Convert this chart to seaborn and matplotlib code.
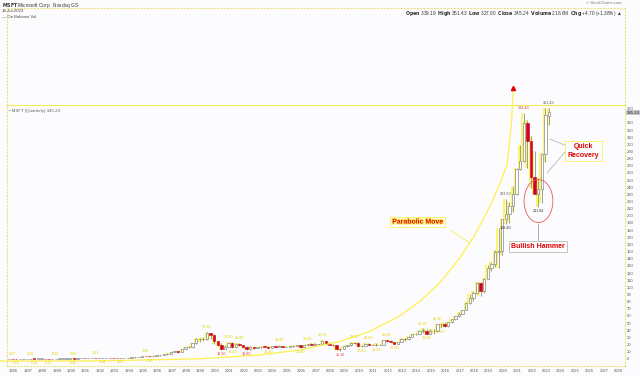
import numpy as np
import matplotlib
matplotlib.use("Agg")
import matplotlib.pyplot as plt
import matplotlib.patheffects as pe
from matplotlib.patches import Ellipse
import matplotlib.transforms as mtransforms
import seaborn as sns

# --- quarterly OHLC, MSFT (dividend adjusted), 1986 Q1 .. 2023 Q3 ---
opens = [
    0.055, 0.060, 0.058, 0.055,  0.078, 0.15, 0.17, 0.25,  0.20, 0.21, 0.22, 0.18,
    0.17, 0.18, 0.21, 0.26,  0.31, 0.41, 0.54, 0.48,  0.63, 0.90, 0.87, 1.05,
    1.38, 1.32, 1.17, 1.32,  1.62, 1.40, 1.38, 1.10,  1.25, 1.40, 1.62, 1.95,
    2.30, 2.95, 3.60, 3.50,  3.40, 4.00, 4.70, 5.10,  6.40, 7.10, 9.80, 10.3,
    10.0, 13.9, 16.8, 17.1,  21.5, 27.8, 28.0, 28.1,  36.2, 32.9, 24.8, 18.7,
    13.4, 17.0, 22.6, 15.9,  20.5, 18.7, 17.0, 13.6,  16.0, 15.0, 15.9, 17.2,
    17.0, 15.5, 17.7, 17.1,  18.2, 16.4, 16.9, 17.5,  17.8, 18.8, 16.1, 18.9,
    20.6, 19.5, 20.6, 20.6,  24.9, 20.4, 19.8, 19.2,  14.0, 13.4, 17.4, 18.8,
    22.3, 22.0, 17.3, 18.4,  20.9, 19.6, 20.0, 19.2,  20.0, 25.8, 24.5, 23.8,
    21.4, 23.5, 28.3, 27.3,  30.7, 34.8, 35.4, 39.4,  39.5, 35.4, 38.4, 38.5,
    48.3, 49.2, 45.5, 51.3,  55.3, 59.9, 62.7, 67.8,  77.8, 84.9, 91.7, 106.4,
    94.5, 112.0, 127.3, 132.1,  149.8, 151.4, 195.4, 201.9,  213.5, 231.1, 265.5, 276.3,
    329.6, 305.2, 254.3, 230.6,  237.4, 286.9, 339.19]
highs = [
    0.065, 0.068, 0.060, 0.080,  0.17, 0.19, 0.26, 0.27,  0.22, 0.23, 0.22, 0.19,
    0.19, 0.22, 0.27, 0.34,  0.42, 0.57, 0.60, 0.66,  0.93, 0.99, 1.08, 1.44,
    1.53, 1.38, 1.35, 1.65,  1.70, 1.50, 1.42, 1.30,  1.45, 1.70, 2.05, 2.35,
    3.00, 3.70, 3.90, 3.70,  4.10, 4.90, 5.30, 6.90,  7.50, 9.90, 11.0, 10.8,
    14.0, 16.8, 18.5, 22.0,  29.0, 29.4, 30.3, 37.2,  36.8, 34.7, 25.6, 22.4,
    19.7, 23.2, 23.1, 21.9,  21.8, 19.5, 17.5, 18.0,  16.4, 16.7, 18.1, 18.0,
    17.9, 18.0, 18.1, 19.0,  18.4, 17.6, 18.3, 19.0,  19.6, 19.5, 19.0, 21.0,
    21.6, 21.6, 21.0, 26.3,  25.2, 23.4, 20.3, 19.6,  15.0, 17.9, 19.2, 23.2,
    23.7, 23.7, 19.8, 21.6,  22.0, 20.6, 21.6, 21.1,  26.0, 26.4, 25.8, 24.2,
    23.8, 29.2, 29.5, 31.9,  35.0, 36.2, 39.9, 42.5,  41.6, 42.4, 41.1, 49.1,
    49.5, 50.9, 51.8, 56.2,  60.4, 65.5, 68.7, 79.6,  90.6, 95.3, 107.6, 107.5,
    112.9, 131.3, 135.8, 151.8,  183.1, 196.2, 223.5, 219.0,  241.2, 266.2, 299.7, 344.4,
    334.6, 312.0, 291.2, 252.8,  287.8, 350.8, 351.43]
lows = [
    0.053, 0.055, 0.050, 0.053,  0.077, 0.14, 0.17, 0.14,  0.18, 0.19, 0.17, 0.15,
    0.16, 0.18, 0.21, 0.26,  0.30, 0.39, 0.45, 0.47,  0.61, 0.81, 0.84, 1.02,
    1.23, 1.11, 1.14, 1.29,  1.33, 1.30, 1.05, 1.05,  1.22, 1.35, 1.58, 1.85,
    2.25, 2.90, 3.40, 3.10,  3.20, 3.90, 4.40, 5.00,  6.00, 6.90, 9.20, 8.80,
    9.80, 13.3, 14.5, 14.8,  20.5, 23.4, 25.4, 26.4,  27.8, 20.4, 18.5, 12.5,
    13.1, 16.1, 15.1, 15.1,  18.1, 15.1, 12.8, 12.9,  14.3, 14.8, 15.6, 16.0,
    15.2, 15.5, 16.6, 16.5,  16.3, 16.2, 16.7, 16.9,  17.6, 14.8, 15.8, 18.6,
    19.0, 19.3, 19.0, 20.2,  19.3, 19.5, 17.3, 12.5,  11.1, 13.3, 16.4, 18.5,
    20.9, 17.1, 17.0, 18.1,  19.3, 18.9, 18.2, 18.8,  20.0, 23.2, 23.4, 21.0,
    21.3, 23.2, 25.6, 26.9,  30.4, 33.3, 35.1, 36.1,  34.5, 35.3, 34.6, 38.2,
    42.8, 43.9, 44.6, 50.2,  55.0, 59.1, 62.1, 67.7,  76.2, 81.5, 90.5, 87.4,
    92.2, 111.1, 123.2, 129.1,  127.2, 144.8, 188.4, 190.5,  204.9, 229.0, 264.2, 275.0,
    267.3, 239.1, 230.4, 211.94,  218.3, 275.4, 327.00]
closes = [
    0.060, 0.058, 0.055, 0.078,  0.15, 0.17, 0.25, 0.20,  0.21, 0.22, 0.18, 0.17,
    0.18, 0.21, 0.26, 0.31,  0.41, 0.54, 0.48, 0.63,  0.90, 0.87, 1.05, 1.38,
    1.32, 1.17, 1.32, 1.62,  1.40, 1.38, 1.10, 1.25,  1.40, 1.62, 1.95, 2.30,
    2.95, 3.60, 3.50, 3.40,  4.00, 4.70, 5.10, 6.40,  7.10, 9.80, 10.3, 10.0,
    13.9, 16.8, 17.1, 21.5,  27.8, 28.0, 28.1, 36.2,  32.9, 24.8, 18.7, 13.4,
    17.0, 22.6, 15.9, 20.5,  18.7, 17.0, 13.6, 16.0,  15.0, 15.9, 17.2, 17.0,
    15.5, 17.7, 17.1, 18.2,  16.4, 16.9, 17.5, 17.8,  18.8, 16.1, 18.9, 20.6,
    19.5, 20.6, 20.6, 24.9,  20.4, 19.8, 19.2, 14.0,  13.4, 17.4, 18.8, 22.3,
    22.0, 17.3, 18.4, 20.9,  19.6, 20.0, 19.2, 20.0,  25.8, 24.5, 23.8, 21.4,
    23.5, 28.3, 27.3, 30.7,  34.8, 35.4, 39.4, 39.5,  35.4, 38.4, 38.5, 48.3,
    49.2, 45.5, 51.3, 55.3,  59.9, 62.7, 67.8, 77.8,  84.9, 91.7, 106.4, 94.5,
    112.0, 127.3, 132.1, 149.8,  151.4, 195.4, 201.9, 213.5,  231.1, 265.5, 276.3, 329.6,
    305.2, 254.3, 230.6, 237.4,  286.9, 340.5, 345.24]

first_year = 1986
year_ticks = list(range(1986, 2029))
# 340 sits under the last-price flag
price_ticks = [p for p in range(0, 351, 10) if p != 340]

# swing points that carry a value label
pivot_high_idx = [1, 6, 13, 18, 24, 38, 55, 61, 64, 75, 83, 87, 96, 100, 105, 115, 119, 138, 143, 150]
pivot_low_idx = [2, 7, 11, 18, 26, 31, 39, 59, 62, 66, 72, 81, 92, 98, 102, 107, 116, 120, 138, 147]

# hand drawn "parabolic" curve (year, price)
curve_x = [1985.38, 1992.32, 1999.26, 2003.43, 2006.21, 2008.99, 2011.07, 2013.15, 2014.54,
           2015.93, 2017.32, 2018.36, 2019.40, 2020.10, 2020.58, 2020.72, 2020.90, 2020.98, 2021.0]
curve_y = [-3.0, -2.8, 0.1, 5.5, 12.4, 24.4, 38.5, 60.3, 80.4,
           106.7, 141.2, 173.9, 213.4, 245.7, 270.7, 296.1, 331.0, 361.7, 375.7]

header_stats = r"$\bf{Open}$ 339.19  $\bf{High}$ 351.43  $\bf{Low}$ 327.00  $\bf{Close}$ 345.24  $\bf{Volume}$ 218.6M  $\bf{Chg}$ +4.70 (+1.38%)"

sns.set_theme(style="white")
plt.rcParams['font.family'] = ['Liberation Sans', 'DejaVu Sans']
BG = '#fcfcfe'
FRAME = '#e9e27a'

W, H = 640, 376
fig = plt.figure(figsize=(W / 100, H / 100), dpi=100, facecolor=BG)

def box(l, t, r, b):
    return [l / W, 1 - b / H, (r - l) / W, (b - t) / H]

ax_obv = fig.add_axes(box(7, 8, 625, 105))
ax = fig.add_axes(box(7, 105, 625, 366))
for a in (ax_obv, ax):
    a.set_facecolor(BG)
    for s in a.spines.values():
        s.set_color(FRAME)
        s.set_linestyle((0, (1, 2)))
        s.set_linewidth(0.8)
ax_obv.set_xticks([])
ax_obv.set_yticks([])
ax_obv.spines['bottom'].set_visible(False)
ax.spines['top'].set_linestyle((0, (1, 1)))
ax.spines['top'].set_color('#f3ea55')

o = np.array(opens); h = np.array(highs); l = np.array(lows); c = np.array(closes)
x = first_year + np.arange(len(o)) / 4.0
up = c >= o

# candles: yellow halo, wick, body
ax.vlines(x - 0.09, l, h, color='#fbf65a', lw=1.3, zorder=1)
ax.vlines(x, l, h, color='#777777', lw=0.5, zorder=2)
body_lo = np.minimum(o, c)
body_h = np.maximum(np.abs(c - o), 0.3)
ax.bar(x[up], body_h[up], bottom=body_lo[up], width=0.17, color='white',
       edgecolor='#888888', linewidth=0.5, zorder=3)
ax.bar(x[~up], body_h[~up], bottom=body_lo[~up], width=0.17, color='#d2002a',
       edgecolor='#c8001e', linewidth=0.4, zorder=3)

# value labels at swing highs / lows
for i in pivot_high_idx:
    col = '#cf4a4a' if i == 143 else ('#555555' if i >= 138 else '#e3d400')
    ax.annotate(f"{highs[i]:.2f}", (x[i], highs[i]), xytext=(0, 2.0), textcoords='offset points',
                ha='center', va='bottom', fontsize=2.7, color=col, zorder=5)
for i in pivot_low_idx:
    col = '#333333' if i >= 138 else ('#e14040' if i in (59, 66, 92) else '#e3d400')
    ax.annotate(f"{lows[i]:.2f}", (x[i], lows[i]), xytext=(0, -1.5), textcoords='offset points',
                ha='center', va='top', fontsize=2.7, color=col, zorder=5)

# parabolic curve + arrow head
sns.lineplot(x=curve_x, y=curve_y, sort=False, estimator=None, ax=ax, color='#fff04a',
             lw=0.9, zorder=4, clip_on=False)
ax.plot([curve_x[-1]], [curve_y[-1] + 3], marker='^', ms=3, color='#e00000', clip_on=False, zorder=6)

glow = [pe.withStroke(linewidth=1.6, foreground='#fff36a')]
ax.text(2014.4, 191.3, "Parabolic Move", color='#e00000', fontsize=5, fontweight='bold',
        ha='center', va='center', path_effects=glow, zorder=7,
        bbox=dict(boxstyle='square,pad=0.25', fc=BG, ec='#f5ef60', lw=0.6))
ax.plot([2016.63, 2018.01], [180.2, 162.0], color='#f2ec60', lw=0.6, zorder=4)

ax.text(2025.9, 290.5, "Quick\nRecovery", color='#e00000', fontsize=5, fontweight='bold',
        ha='center', va='center', linespacing=1.3, zorder=7,
        bbox=dict(boxstyle='square,pad=0.35', fc=BG, ec='#f5ef60', lw=0.6))
ax.plot([2024.61, 2023.57], [298.9, 307.3], color='#aaaaaa', lw=0.5, zorder=4)
ax.plot([2024.61, 2023.36], [289.1, 259.8], color='#aaaaaa', lw=0.5, zorder=4)

ax.add_patch(Ellipse((2022.77, 220.7), 2.0, 60.1, fill=False, ec='#e85a5a', lw=0.6, zorder=6))
ax.plot([2022.76, 2022.76], [188.5, 166.2], color='#888888', lw=0.5, zorder=4)
ax.text(2022.74, 157.1, "Bullish Hammer", color='#e00000', fontsize=5, fontweight='bold',
        ha='center', va='center', zorder=7,
        bbox=dict(boxstyle='square,pad=0.3', fc=BG, ec='#bbbbbb', lw=0.6))

ax.set_xlim(1985.86, 2028.78)
ax.set_ylim(-10, 355)
ax.set_xticks(year_ticks)
ax.set_xticklabels([str(y) for y in year_ticks], ha='left')
ax.yaxis.tick_right()
ax.set_yticks(price_ticks)
ax.set_yticklabels([str(p) for p in price_ticks])
ax.tick_params(axis='both', length=0, labelsize=3, colors='#555555', pad=1.2)
ax.tick_params(axis='x', pad=2.2, labelsize=2.9)
ax.grid(False)

# current price flag on the right scale
trans = mtransforms.blended_transform_factory(ax.transAxes, ax.transData)
ax.text(1.003, 346.8, "345.24", transform=trans, fontsize=3.1, color='#222222', va='top',
        ha='left', zorder=8, bbox=dict(boxstyle='square,pad=0.1', fc='#c8c8c8', ec='none'))
ax.text(0.004, 0.985, "\u25aa MSFT (Quarterly) 345.24", transform=ax.transAxes, fontsize=3.2,
        color='#666666', va='top', ha='left', zorder=8)

# header
fig.text(2 / W, 1 - 1.0 / H, r"$\bf{MSFT}$ Microsoft Corp.  Nasdaq GS", fontsize=3.4, va='top',
         color='#333333')
fig.text(2 / W, 1 - 9.5 / H, "14-Jul-2023", fontsize=3.1, va='top', color='#444444')
fig.text(2 / W, 1 - 15.5 / H, "\u2014 On Balance Vol", fontsize=3.1, va='top', color='#444444')
fig.text(622 / W, 1 - 1.5 / H, "\u00a9 StockCharts.com", fontsize=3.0, va='top', ha='right', color='#777777')
fig.text(622 / W, 1 - 9 / H, header_stats + " \u25b2", fontsize=3.4, va='top', ha='right', color='#333333')

fig.savefig("out.png", dpi=100, facecolor=BG)
